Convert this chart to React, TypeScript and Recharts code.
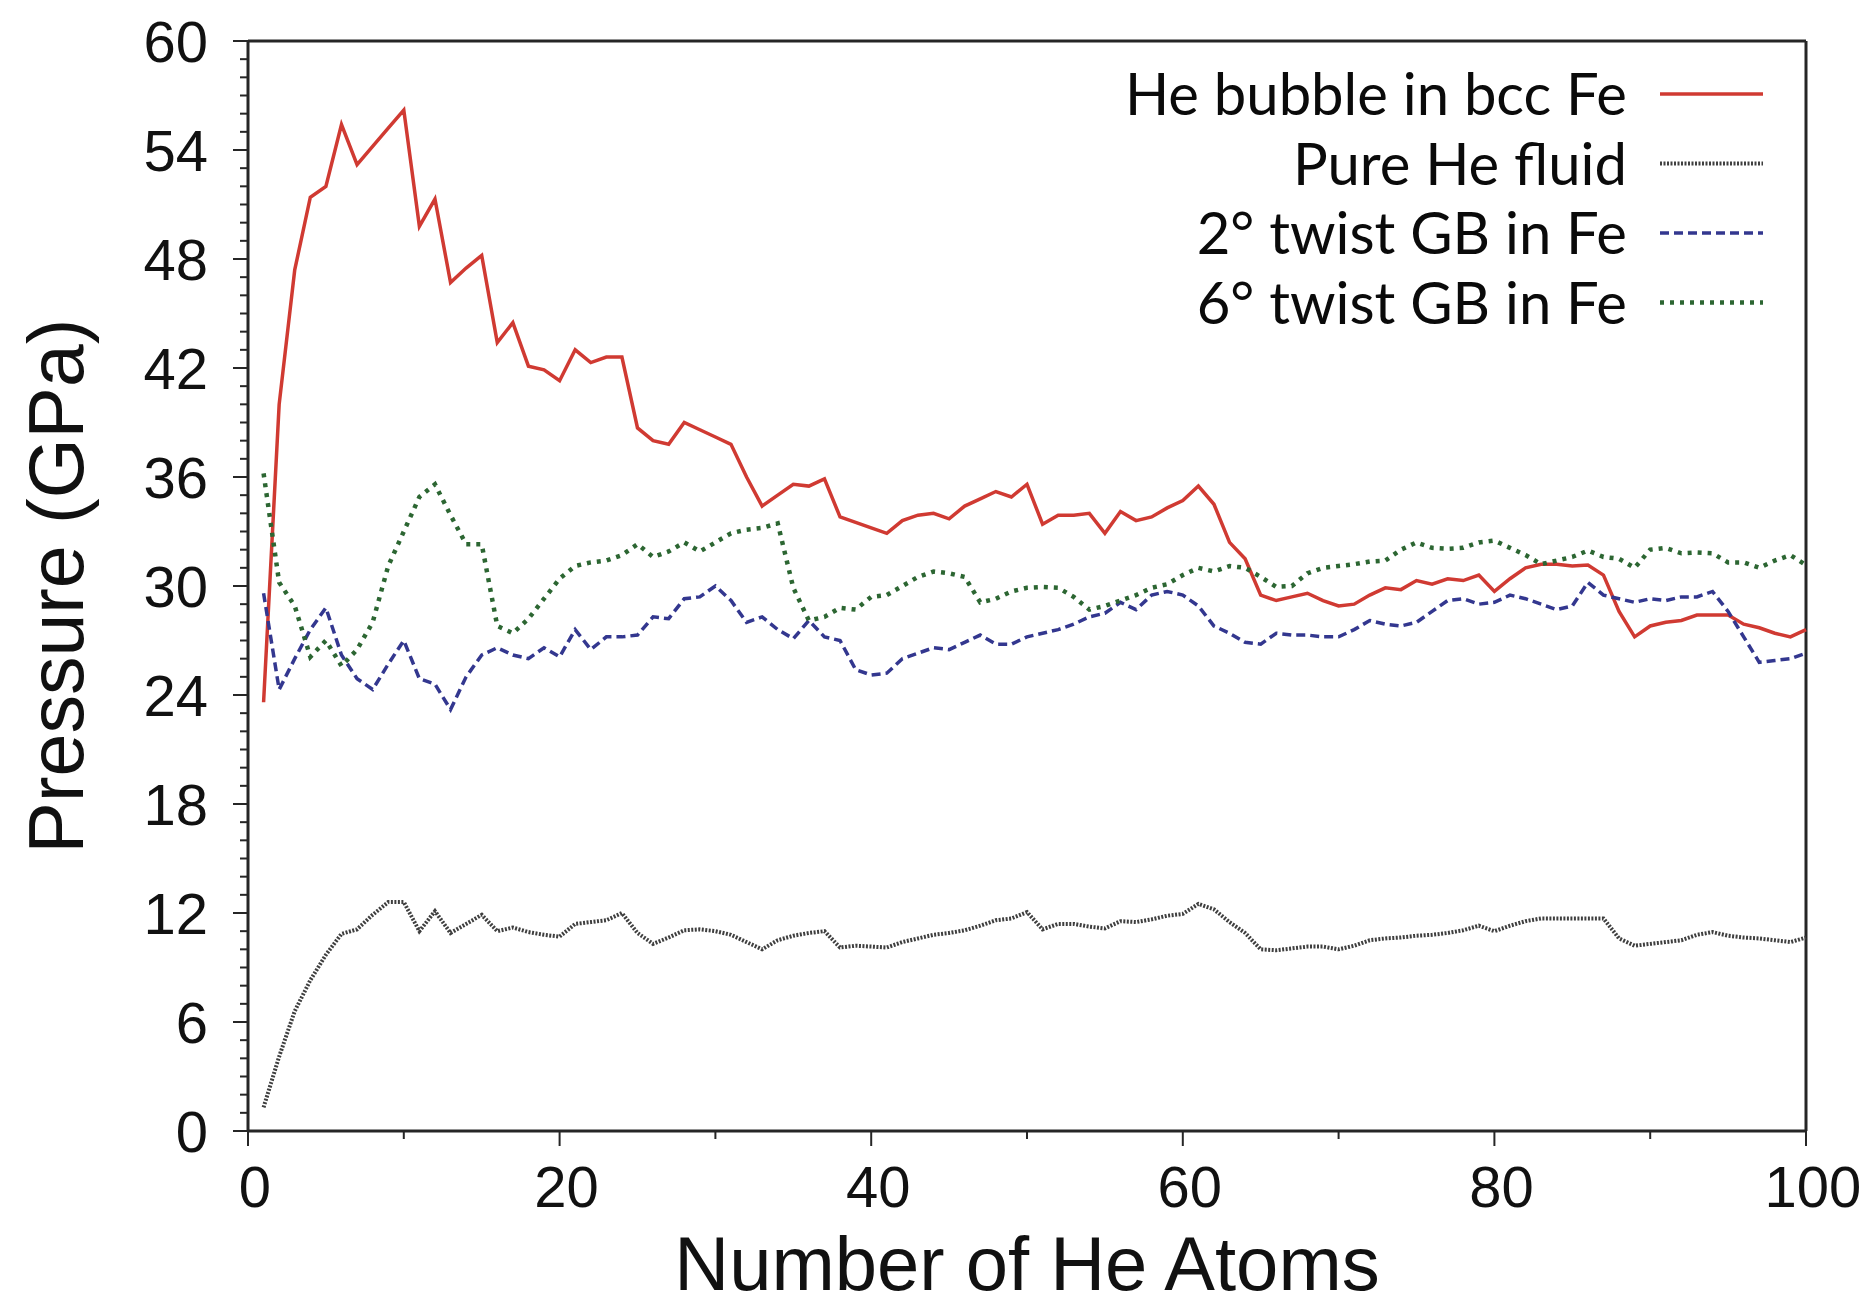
import { CartesianGrid, Label, Legend, Line, LineChart, ReferenceLine, XAxis, YAxis } from 'recharts';

// number of He atoms in the cluster
const atoms = [
  1, 2, 3, 4, 5, 6, 7, 8, 9, 10, 11, 12, 13, 14, 15, 16, 17, 18, 19, 20,
  21, 22, 23, 24, 25, 26, 27, 28, 29, 30, 31, 32, 33, 34, 35, 36, 37, 38, 39, 40,
  41, 42, 43, 44, 45, 46, 47, 48, 49, 50, 51, 52, 53, 54, 55, 56, 57, 58, 59, 60,
  61, 62, 63, 64, 65, 66, 67, 68, 69, 70, 71, 72, 73, 74, 75, 76, 77, 78, 79, 80,
  81, 82, 83, 84, 85, 86, 87, 88, 89, 90, 91, 92, 93, 94, 95, 96, 97, 98, 99, 100,
];

// pressure (GPa)
const bubbleBcc = [
  23.6, 40.0, 47.4, 51.4, 52.0, 55.4, 53.2, 54.2, 55.2, 56.2,
  49.8, 51.3, 46.7, 47.5, 48.2, 43.4, 44.5, 42.1, 41.9, 41.3,
  43.0, 42.3, 42.6, 42.6, 38.7, 38.0, 37.8, 39.0, 38.6, 38.2,
  37.8, 36.0, 34.4, 35.0, 35.6, 35.5, 35.9, 33.8, 33.5, 33.2,
  32.9, 33.6, 33.9, 34.0, 33.7, 34.4, 34.8, 35.2, 34.9, 35.6,
  33.4, 33.9, 33.9, 34.0, 32.9, 34.1, 33.6, 33.8, 34.3, 34.7,
  35.5, 34.5, 32.4, 31.5, 29.5, 29.2, 29.4, 29.6, 29.2, 28.9,
  29.0, 29.5, 29.9, 29.8, 30.3, 30.1, 30.4, 30.3, 30.6, 29.7,
  30.4, 31.0, 31.2, 31.2, 31.1, 31.15, 30.6, 28.6, 27.2, 27.8,
  28.0, 28.1, 28.4, 28.4, 28.4, 27.9, 27.7, 27.4, 27.2, 27.6,
];

const pureFluid = [
  1.3, 4.1, 6.6, 8.3, 9.7, 10.85, 11.1, 11.9, 12.6, 12.6,
  11.0, 12.1, 10.9, 11.4, 11.9, 11.0, 11.2, 10.95, 10.8, 10.7,
  11.4, 11.5, 11.6, 12.0, 10.9, 10.3, 10.65, 11.05, 11.1, 11.0,
  10.8, 10.4, 10.0, 10.5, 10.75, 10.9, 11.0, 10.1, 10.2, 10.15,
  10.1, 10.4, 10.6, 10.8, 10.9, 11.05, 11.3, 11.6, 11.7, 12.05,
  11.1, 11.4, 11.4, 11.25, 11.15, 11.55, 11.5, 11.65, 11.85, 11.95,
  12.5, 12.2, 11.5, 10.9, 10.0, 9.95, 10.05, 10.15, 10.15, 10.0,
  10.2, 10.5, 10.6, 10.65, 10.75, 10.8, 10.9, 11.05, 11.3, 11.0,
  11.3, 11.55, 11.7, 11.7, 11.7, 11.7, 11.7, 10.6, 10.2, 10.3,
  10.4, 10.5, 10.8, 10.95, 10.75, 10.65, 10.6, 10.5, 10.4, 10.65,
];

const twist2 = [
  29.6, 24.3, 26.0, 27.6, 28.8, 26.2, 24.9, 24.3, 25.7, 27.0,
  24.9, 24.6, 23.2, 25.0, 26.2, 26.6, 26.2, 26.0, 26.6, 26.1,
  27.6, 26.5, 27.2, 27.2, 27.3, 28.3, 28.2, 29.3, 29.4, 30.0,
  29.2, 28.0, 28.3, 27.6, 27.1, 28.1, 27.2, 27.0, 25.4, 25.1,
  25.2, 26.0, 26.3, 26.6, 26.5, 26.9, 27.3, 26.8, 26.8, 27.2,
  27.4, 27.6, 27.9, 28.3, 28.5, 29.1, 28.7, 29.5, 29.7, 29.5,
  28.9, 27.8, 27.4, 26.9, 26.8, 27.4, 27.3, 27.3, 27.2, 27.2,
  27.6, 28.1, 27.9, 27.8, 28.0, 28.6, 29.2, 29.3, 29.0, 29.1,
  29.5, 29.3, 29.0, 28.7, 28.9, 30.2, 29.5, 29.3, 29.1, 29.3,
  29.2, 29.4, 29.4, 29.7, 28.6, 27.2, 25.8, 25.9, 26.0, 26.3,
];

const twist6 = [
  36.2, 30.2, 28.9, 26.1, 27.0, 25.6, 26.5, 28.0, 31.1, 33.0,
  34.9, 35.6, 33.9, 32.3, 32.3, 27.8, 27.4, 28.2, 29.3, 30.4,
  31.1, 31.3, 31.4, 31.7, 32.3, 31.6, 31.9, 32.4, 31.9, 32.4,
  32.9, 33.1, 33.2, 33.45, 29.9, 28.1, 28.3, 28.8, 28.7, 29.4,
  29.5, 30.0, 30.5, 30.8, 30.7, 30.5, 29.1, 29.3, 29.7, 29.9,
  29.95, 29.9, 29.4, 28.7, 28.9, 29.2, 29.5, 29.9, 30.1, 30.6,
  31.0, 30.8, 31.1, 31.0, 30.5, 29.95, 30.0, 30.7, 31.0, 31.1,
  31.2, 31.35, 31.4, 32.0, 32.4, 32.1, 32.05, 32.1, 32.4, 32.5,
  32.1, 31.7, 31.2, 31.4, 31.6, 31.95, 31.6, 31.5, 31.0, 32.0,
  32.1, 31.8, 31.85, 31.8, 31.3, 31.3, 31.0, 31.4, 31.7, 31.15,
];

const xTicks = [0, 10, 20, 30, 40, 50, 60, 70, 80, 90, 100];
const xLabelTicks = [0, 20, 40, 60, 80, 100];
const yTicks = Array.from({ length: 61 }, (_, i) => i);
const yLabelTicks = [0, 6, 12, 18, 24, 30, 36, 42, 48, 54, 60];

const data = atoms.map((n, i) => ({
  n,
  bcc: bubbleBcc[i],
  fluid: pureFluid[i],
  gb2: twist2[i],
  gb6: twist6[i],
}));

const AXIS = '#262626';
const TICK_FONT = "'Liberation Sans', Arial, Helvetica, sans-serif";

const series = [
  { key: 'bcc', name: 'He bubble in bcc Fe', color: '#d03a32', width: 3.5, dash: undefined },
  { key: 'fluid', name: 'Pure He fluid', color: '#3f3f3f', width: 4, dash: '2 1.5' },
  { key: 'gb2', name: '2\u00b0 twist GB in Fe', color: '#33378f', width: 3.5, dash: '9 5' },
  { key: 'gb6', name: '6\u00b0 twist GB in Fe', color: '#2c6632', width: 4.5, dash: '4 6' },
];

const YTick = (props: any) => {
  const { x, y, payload } = props;
  const major = yLabelTicks.includes(payload.value);
  return (
    <g>
      <line x1={x - (major ? 15 : 8)} x2={x} y1={y} y2={y} stroke={AXIS} strokeWidth={2} />
      {major && (
        <text
          x={x - 40}
          y={y}
          dy="0.36em"
          textAnchor="end"
          fontFamily={TICK_FONT}
          fontSize={58}
          fill="#111"
        >
          {payload.value}
        </text>
      )}
    </g>
  );
};

const XTick = (props: any) => {
  const { x, y, payload } = props;
  const major = xLabelTicks.includes(payload.value);
  return (
    <g>
      <line x1={x} x2={x} y1={y} y2={y + (major ? 15 : 8)} stroke={AXIS} strokeWidth={2} />
      {major && (
        <text
          x={x + 7}
          y={y + 76}
          textAnchor="middle"
          fontFamily={TICK_FONT}
          fontSize={58}
          fill="#111"
        >
          {payload.value}
        </text>
      )}
    </g>
  );
};

const renderYTitle = (props: any) => {
  const { viewBox } = props;
  const cx = viewBox.x + 55;
  const cy = viewBox.y + viewBox.height / 2;
  return (
    <text
      x={cx}
      y={cy}
      dy="0.36em"
      transform={`rotate(-90 ${cx} ${cy})`}
      textAnchor="middle"
      fontFamily={TICK_FONT}
      fontSize={77}
      fill="#111"
    >
      Pressure (GPa)
    </text>
  );
};

const renderXTitle = (props: any) => {
  const { viewBox } = props;
  return (
    <text
      x={viewBox.x + viewBox.width / 2}
      y={viewBox.y + 159}
      textAnchor="middle"
      fontFamily={TICK_FONT}
      fontSize={76}
      fill="#111"
    >
      Number of He Atoms
    </text>
  );
};

const renderLegend = () => (
  <svg width={1873} height={340}>
    {series.map((s, i) => {
      const baseline = 115 + i * 69.5;
      return (
        <g key={s.key}>
          <text
            x={1627}
            y={baseline}
            textAnchor="end"
            fontFamily="Lato, 'Open Sans', sans-serif"
            fontSize={58}
            fill="#0a0a0a"
          >
            {s.name}
          </text>
          <line
            x1={1660}
            x2={1763}
            y1={baseline - 21}
            y2={baseline - 21}
            stroke={s.color}
            strokeWidth={s.width}
            strokeDasharray={s.dash}
          />
        </g>
      );
    })}
  </svg>
);

export default function App() {
  return (
    <div style={{ position: 'absolute', left: 0, top: 0, background: '#fff' }}>
      <LineChart
        width={1873}
        height={1307}
        data={data}
        margin={{ top: 41, right: 67, left: 0, bottom: 0 }}
      >
        <CartesianGrid stroke="none" />
        <XAxis
          dataKey="n"
          type="number"
          domain={[0, 100]}
          ticks={xTicks}
          interval={0}
          height={176}
          tickSize={0}
          tickMargin={0}
          tickLine={false}
          axisLine={{ stroke: AXIS, strokeWidth: 3 }}
          tick={XTick}
        >
          <Label content={renderXTitle} />
        </XAxis>
        <YAxis
          type="number"
          domain={[0, 60]}
          ticks={yTicks}
          interval={0}
          width={248}
          tickSize={0}
          tickMargin={0}
          tickLine={false}
          axisLine={{ stroke: AXIS, strokeWidth: 3 }}
          tick={YTick}
        >
          <Label content={renderYTitle} />
        </YAxis>
        <ReferenceLine y={60} stroke={AXIS} strokeWidth={3} />
        <ReferenceLine x={100} stroke={AXIS} strokeWidth={3} />
        <Legend
          layout="horizontal"
          verticalAlign="middle"
          align="center"
          content={renderLegend}
          wrapperStyle={{ position: 'absolute', top: 0, left: 0, width: 1873, height: 340 }}
        />
        {series.map((s) => (
          <Line
            key={s.key}
            dataKey={s.key}
            name={s.name}
            type="linear"
            stroke={s.color}
            strokeWidth={s.width}
            strokeDasharray={s.dash}
            dot={false}
            activeDot={false}
            isAnimationActive={false}
          />
        ))}
      </LineChart>
    </div>
  );
}
